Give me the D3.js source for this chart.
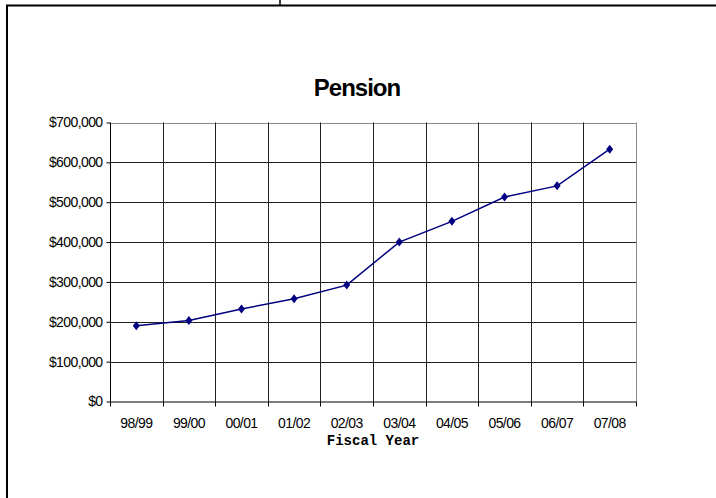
<!DOCTYPE html>
<meta charset="utf-8">
<style>
  body { margin: 0; background: #fff; }
  .title { font-family: "Liberation Sans", Arial, sans-serif; font-weight: bold; font-size: 24px; letter-spacing: -1px; text-anchor: middle; }
  .tick text { font-family: "Liberation Sans", Arial, sans-serif; font-size: 14px; letter-spacing: -0.6px; fill: #000; }
  .xlabel { font-family: "Liberation Mono", "Courier New", monospace; font-weight: bold; font-size: 14px; text-anchor: middle; }
</style>
<svg width="716" height="498"></svg>
<script src="https://d3js.org/d3.v7.min.js"></script>
<script>

// data
var years = ['98/99', '99/00', '00/01', '01/02', '02/03', '03/04', '04/05', '05/06', '06/07', '07/08'];
var pension = [190000, 203000, 232000, 258000, 292000, 400000, 452000, 513000, 541000, 633000];
var yTicks = [0, 100000, 200000, 300000, 400000, 500000, 600000, 700000];

var svg = d3.select('svg');

// outer frame (cut off at the edges)
svg.append('line').attr('x1', 6).attr('x2', 716).attr('y1', 5.5).attr('y2', 5.5)
    .attr('stroke', '#000').attr('stroke-width', 2);
svg.append('line').attr('x1', 7).attr('x2', 7).attr('y1', 5).attr('y2', 498)
    .attr('stroke', '#000').attr('stroke-width', 2);
svg.append('line').attr('x1', 280).attr('x2', 280).attr('y1', 0).attr('y2', 5)
    .attr('stroke', '#000').attr('stroke-width', 1.5);

var pLeft = 110, pRight = 636, pTop = 122.5, pBottom = 401.5;

var x = d3.scaleBand().domain(years).range([pLeft, pRight]);
var y = d3.scaleLinear().domain([0, 700000]).range([pBottom, pTop]);

// gridlines
var grid = svg.append('g').attr('stroke-width', 1);
grid.selectAll('.h').data(yTicks.slice(1)).enter().append('line')
    .attr('x1', pLeft).attr('x2', pRight)
    .attr('y1', function(d) { return Math.round(y(d)) + 0.5; })
    .attr('y2', function(d) { return Math.round(y(d)) + 0.5; })
    .attr('stroke', function(d) { return d === 700000 ? '#888' : '#222'; });
grid.selectAll('.v').data(years.slice(1)).enter().append('line')
    .attr('x1', function(d) { return Math.round(x(d)) + 0.5; })
    .attr('x2', function(d) { return Math.round(x(d)) + 0.5; })
    .attr('y1', pTop).attr('y2', pBottom)
    .attr('stroke', '#222');
svg.append('line').attr('x1', pRight + 0.5).attr('x2', pRight + 0.5).attr('y1', pTop).attr('y2', pBottom)
    .attr('stroke', '#888');

// axes
var yAxis = svg.append('g').attr('transform', 'translate(' + (pLeft + 0.5) + ',0)')
    .call(d3.axisLeft(y).tickValues(yTicks).tickSize(4).tickPadding(4)
        .tickFormat(function(d) { return '$' + d3.format(',')(d); }));
yAxis.selectAll('line, path').attr('stroke', '#000');
yAxis.select('.domain').attr('d', 'M0,' + pBottom + 'V' + pTop);

var xAxis = svg.append('g').attr('transform', 'translate(0,' + (pBottom + 0.5) + ')')
    .call(d3.axisBottom(x).tickSize(0).tickPadding(16));
xAxis.select('.domain').attr('d', 'M' + pLeft + ',0H' + pRight).attr('stroke', '#000');
xAxis.selectAll('.tick line').remove();
svg.append('g').selectAll('line').data(years.concat(['end'])).enter().append('line')
    .attr('x1', function(d, i) { return Math.round(pLeft + i * x.bandwidth()) + 0.5; })
    .attr('x2', function(d, i) { return Math.round(pLeft + i * x.bandwidth()) + 0.5; })
    .attr('y1', pBottom).attr('y2', pBottom + 5)
    .attr('stroke', '#000');

// line + markers
var cx = function(d, i) { return x(years[i]) + x.bandwidth() / 2; };
svg.append('path').datum(pension)
    .attr('fill', 'none').attr('stroke', '#000080').attr('stroke-width', 1.5)
    .attr('d', d3.line().x(cx).y(function(d) { return y(d); }));
svg.selectAll('.pt').data(pension).enter().append('path')
    .attr('fill', '#000080')
    .attr('transform', function(d, i) { return 'translate(' + cx(d, i) + ',' + y(d) + ')'; })
    .attr('d', 'M0,-4.5L3.5,0L0,4.5L-3.5,0Z');

// titles
svg.append('text').attr('class', 'title').attr('x', 357).attr('y', 96).text('Pension');
svg.append('text').attr('class', 'xlabel').attr('x', 373).attr('y', 445).text('Fiscal Year');

</script>
